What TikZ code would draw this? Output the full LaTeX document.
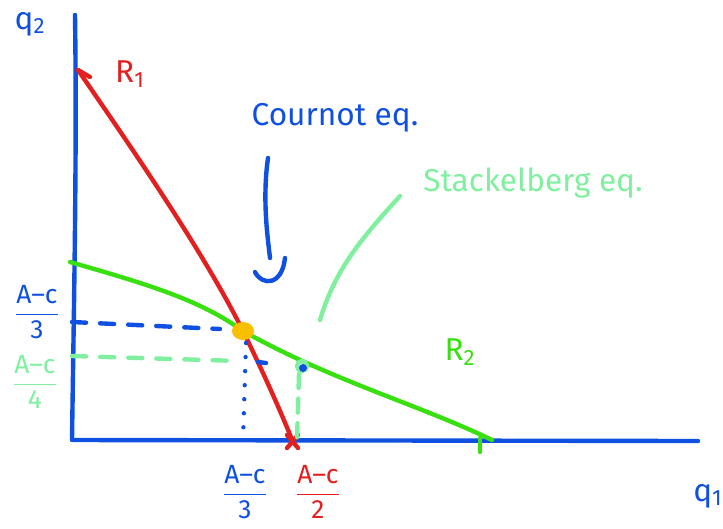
\documentclass[tikz,border=0pt]{standalone}
\usepackage{fontspec}
\setmainfont{Fira Sans}
\usetikzlibrary{positioning}
\definecolor{penblue}{RGB}{16,80,224}
\definecolor{penred}{RGB}{226,32,32}
\definecolor{pengreen}{RGB}{56,224,16}
\definecolor{penmint}{RGB}{128,240,160}
\definecolor{penorange}{RGB}{248,192,0}
\newcommand{\handfrac}[2]{$\displaystyle\frac{\mbox{#1}}{\mbox{#2}}$}
\begin{document}
\begin{tikzpicture}[x=0.02cm, y=-0.02cm, line cap=round, line join=round,
    pen/.style={line width=2.5pt},
    lbl/.style={font=\fontsize{18}{20}\selectfont, inner sep=0pt},
    fraclbl/.style={font=\fontsize{15}{17}\selectfont, inner sep=0pt}]
    \useasboundingbox (0,0) rectangle (723,528);

    % axes
    \coordinate (top) at (75,15);
    \coordinate (origin) at (72,440);
    \coordinate (right) at (698,441);
    \draw[pen, penblue] (top) .. controls (77,150) and (74,300) .. (origin) -- (right);
    \node[lbl, penblue] (q2) at (30,24) {q\textsubscript{2}};
    \node[lbl, penblue] (q1) at (708,496) {q\textsubscript{1}};

    % best responses
    \coordinate (r1top) at (78,70);
    \coordinate (cournot) at (243,331);
    \coordinate (r1end) at (293,442);
    \coordinate (r2top) at (70,262);
    \coordinate (stack) at (302,366);
    \coordinate (r2end) at (492,440);
    \draw[pen, penred] (r1top) .. controls (140,160) and (205,255) .. (cournot)
        .. controls (262,370) and (278,405) .. (r1end);
    \draw[pen, penred] (r1top) -- ++(12,7);
    \draw[pen, penred] (r1end) ++(-6,-7) -- ++(11,13) ++(0,-13) -- ++(-11,13);
    \draw[pen, pengreen] (r2top) .. controls (150,285) and (200,300) .. (cournot)
        .. controls (330,380) and (420,405) .. (r2end);
    \draw[pen, pengreen] (480,438) -- (480,452);
    \node[lbl, penred] (R1) at (130,74) {R\textsubscript{1}};
    \node[lbl, pengreen] (R2) at (460,352) {R\textsubscript{2}};

    % equilibrium guides
    \draw[pen, penblue, dash pattern=on 8pt off 8pt] (origin |- 0,322) -- (220,329);
    \draw[pen, penmint, dash pattern=on 8pt off 8pt] (origin |- 0,356) -- (240,361);
    \draw[pen, penblue, dash pattern=on 0pt off 8pt] (246,343) -- (cournot |- origin);
    \draw[pen, penmint, dash pattern=on 8pt off 6pt] (299,374) -- (297,440);
    \draw[pen, penblue] (258,362) -- (266,363);

    % equilibrium points
    \fill[penorange] (cournot) ellipse [x radius=11, y radius=9];
    \draw[pen, penmint] (stack) circle [radius=5];
    \fill[penblue] (stack) ++(1,2) circle [radius=4];

    % annotations
    \node[lbl, penblue] (cournotlbl) at (335,118) {Cournot eq.};
    \node[lbl, penmint] (stacklbl) at (533,183) {Stackelberg eq.};
    \coordinate (carrow) at (268,158);
    \draw[pen, penblue] (carrow) .. controls (262,200) and (268,240) .. (270,258);
    \draw[pen, penblue] (255,272) .. controls (262,286) and (282,286) .. (285,258);
    \coordinate (sarrow) at (400,196);
    \draw[pen, penmint] (sarrow) .. controls (360,240) and (335,270) .. (320,320);

    % intercept labels
    \node[fraclbl, penblue] (ylblc) at (37,312) {\handfrac{A--c}{3}};
    \node[fraclbl, penmint] (ylbls) at (35,382) {\handfrac{A--c}{4}};
    \node[fraclbl, penblue] (xlblc) at (245,492) {\handfrac{A--c}{3}};
    \node[fraclbl, penred] (xlblr) at (318,492) {\handfrac{A--c}{2}};
\end{tikzpicture}
\end{document}
